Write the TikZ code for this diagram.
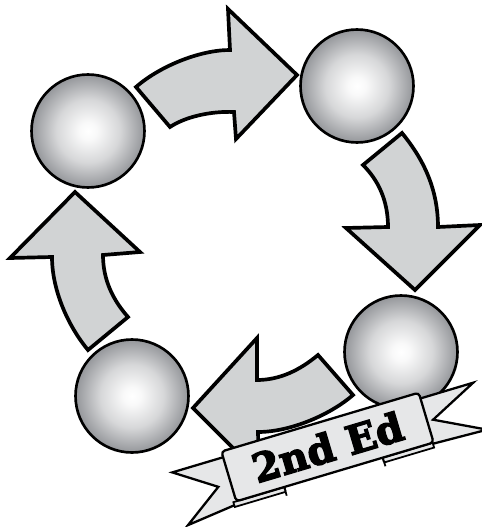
\documentclass[tikz,border=0pt]{standalone}
\usepackage{xcolor}
\definecolor{arrowgray}{HTML}{D1D3D4}
\definecolor{ribbongray}{HTML}{E6E7E8}
\definecolor{ballgray}{HTML}{94969A}
\usepackage{fontspec}
\newfontfamily\badgefont{DejaVu Serif}[BoldFont={* Bold}, BoldFeatures={FakeBold=3.5}]
\usepackage{tikz}
\usetikzlibrary{positioning}
\pgfdeclareradialshading{ballshade}{\pgfpointorigin}{color(0bp)=(white); color(4bp)=(white!94!ballgray);
  color(14bp)=(white!62!ballgray); color(25bp)=(ballgray); color(50bp)=(ballgray)}

\begin{document}
\begin{tikzpicture}[x=0.02cm, y=-0.02cm,
  ball/.style={circle, draw=black, line width=1.5pt, minimum size=2.26cm, inner sep=0pt,
    shading=ballshade},
  block/.style={draw=black, fill=arrowgray, line width=2.1pt, line join=miter},
  ribbon/.style={draw=black, fill=ribbongray, line width=1.3pt}]
  \useasboundingbox (0,0) rectangle (481,527);
  % four stages
  \node[ball] (tl) at (88,131) {};
  \node[ball] (tr) at (357,86) {};
  \node[ball] (br) at (401,352) {};
  \node[ball] (bl) at (132,396) {};
  % curved block arrows, clockwise
  \draw[block] (136,87) .. controls (160,66) and (200,50) .. (230,50) -- (228,9) -- (297,75)
    -- (236,139) -- (234,112) .. controls (210,111) and (185,117) .. (170,127) -- cycle;
  \draw[block] (363,165) -- (402,133) .. controls (420,155) and (438,185) .. (438,227) -- (480,225)
    -- (415,290) -- (346,228) -- (388,227) .. controls (388,200) and (378,180) .. (363,165) -- cycle;
  \draw[block] (193,408) -- (257,338) -- (257,380) .. controls (280,380) and (300,370) .. (318,355)
    -- (353,395) .. controls (330,415) and (290,432) .. (258,432) -- (259,474) -- cycle;
  \draw[block] (75,192) -- (140,252) -- (103,255) .. controls (103,280) and (113,300) .. (128,317)
    -- (88,350) .. controls (68,326) and (52,290) .. (52,257) -- (10,258) -- cycle;
  % banner
  \begin{scope}[shift={(327.5,447)}, rotate=16.6]
    \filldraw[ribbon] (-53,-20) -- (-156,-20) -- (-116,7) -- (-156,35) -- (-104,29) -- (-53,29) -- cycle;
    \filldraw[ribbon] (50,-20) -- (158,-20) -- (109,4) -- (158,29) -- (102,27) -- (50,29) -- cycle;
    \filldraw[ribbon, line width=1pt] (-106,26) rectangle (-53,31);
    \filldraw[ribbon, line width=1pt] (50,26) rectangle (102,31);
    \draw[line width=1pt] (-53,31) -- (-53,35);
    \draw[line width=1pt] (50,31) -- (50,35);
    \node[ribbon, transform shape, minimum width=4.12cm, minimum height=1.04cm, inner sep=0pt,
      rounded corners=2pt, font=\badgefont\bfseries\fontsize{22.5}{24}\selectfont]
      (ed) at (0,0) {2nd Ed};
  \end{scope}
\end{tikzpicture}
\end{document}
